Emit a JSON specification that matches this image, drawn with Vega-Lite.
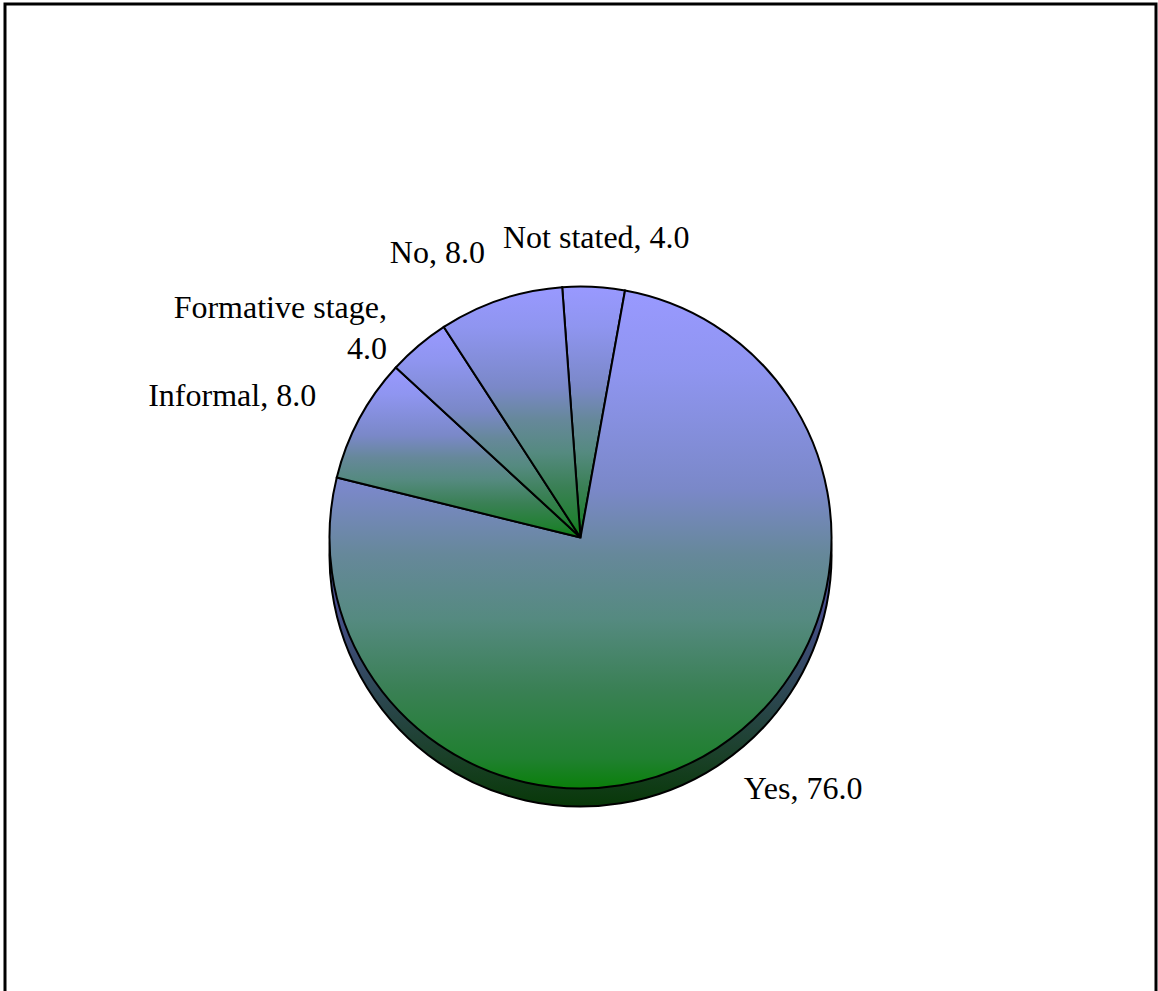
{
  "$schema": "https://vega.github.io/schema/vega-lite/v6.json",
  "width": 1151,
  "height": 1067,
  "autosize": {"type": "none"},
  "padding": {"left": 5, "top": 4, "right": 2, "bottom": -80},
  "background": "white",
  "config": {
    "view": {"stroke": "#000000", "strokeWidth": 3},
    "style": {"view": {"stroke": "#000000", "strokeWidth": 3}},
    "text": {"font": "Liberation Serif"}
  },
  "data": {
    "values": [
      {"category": "Not stated", "value": 4.0},
      {"category": "Yes", "value": 76.0},
      {"category": "Informal", "value": 8.0},
      {"category": "Formative stage", "value": 4.0},
      {"category": "No", "value": 8.0}
    ]
  },
  "transform": [
    {"window": [{"op": "row_number", "as": "slot"}]},
    {
      "calculate": "length(datum.category) > 12 ? [datum.category + ',', format(datum.value, '.1f')] : datum.category + ', ' + format(datum.value, '.1f')",
      "as": "label"
    }
  ],
  "encoding": {
    "theta": {
      "field": "value",
      "type": "quantitative",
      "stack": true,
      "scale": {"range": [-0.073, 6.2102]}
    },
    "order": {"field": "slot", "type": "quantitative"}
  },
  "layer": [
    {
      "mark": {
        "type": "arc",
        "outerRadius": 251,
        "yOffset": 18,
        "stroke": "#000000",
        "strokeWidth": 2,
        "fill": {
          "gradient": "linear",
          "x1": 0, "y1": 0, "x2": 0, "y2": 1,
          "stops": [
            {"offset": 0, "color": "#5a5ab0"},
            {"offset": 0.59, "color": "#4a5090"},
            {"offset": 0.75, "color": "#30485a"},
            {"offset": 0.9, "color": "#1a4028"},
            {"offset": 1, "color": "#083808"}
          ]
        }
      }
    },
    {
      "mark": {
        "type": "arc",
        "outerRadius": 251,
        "stroke": "#000000",
        "strokeWidth": 2,
        "fill": {
          "gradient": "linear",
          "x1": 0, "y1": 0, "x2": 0, "y2": 1,
          "stops": [
            {"offset": 0, "color": "#9999ff"},
            {"offset": 0.16, "color": "#8f95f0"},
            {"offset": 0.4, "color": "#7a88c8"},
            {"offset": 0.53, "color": "#66889a"},
            {"offset": 0.66, "color": "#558a80"},
            {"offset": 0.8, "color": "#3a8055"},
            {"offset": 0.94, "color": "#208030"},
            {"offset": 1, "color": "#0a800a"}
          ]
        }
      }
    },
    {
      "mark": {
        "type": "text",
        "radius": 300,
        "fontSize": 32,
        "lineHeight": 41,
        "baseline": "middle",
        "color": "#000000",
        "align": {
          "expr": "sin(-0.073 + PI * (datum.value_start + datum.value_end) / 100) > 0.25 ? 'left' : (sin(-0.073 + PI * (datum.value_start + datum.value_end) / 100) < -0.25 ? 'right' : 'center')"
        }
      },
      "encoding": {
        "text": {"field": "label", "type": "nominal"}
      }
    }
  ]
}
